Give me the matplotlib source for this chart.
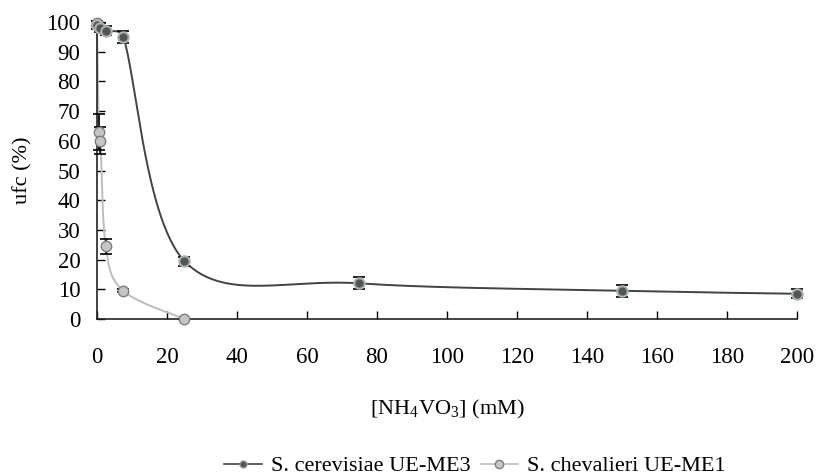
import numpy as np
import matplotlib
matplotlib.use("Agg")
import matplotlib.pyplot as plt
from matplotlib.lines import Line2D

# Data
cer_x = [0, 1, 2.5, 7.5, 25, 75, 150, 200]
cer_y = [99.0, 98.0, 97.0, 95.0, 19.5, 12.0, 9.5, 8.5]
cer_err = [1.5, 1.5, 1.5, 2.0, 1.5, 2.0, 2.0, 1.5]

che_x = [0, 0.5, 1, 2.5, 7.5, 25]
che_y = [99.5, 63.0, 60.0, 24.5, 9.5, 0.0]
che_err = [1.0, 6.0, 4.5, 2.5, 0.5, 0.0]

x_ticks = list(range(0, 201, 20))
y_ticks = list(range(0, 101, 10))

plt.rcParams['font.family'] = ['Liberation Serif', 'DejaVu Serif']
plt.rcParams['mathtext.fontset'] = 'custom'
plt.rcParams['mathtext.rm'] = 'Liberation Serif'

fig = plt.figure(figsize=(8.17, 4.75), dpi=100)
ax = fig.add_axes([0.1187, 0.3284, 0.8568, 0.6253])
ax.set_xlim(0, 200)
ax.set_ylim(0, 100)


def _clamp(v, lim):
    n = np.hypot(*v)
    return v * (lim / n) if n > lim and n > 0 else v


def smooth(xs, ys, n=60):
    # Excel-like smoothed line: Catmull-Rom Bezier (1/6) in display space,
    # control arms limited to half of the segment length
    P = ax.transData.transform(np.column_stack([xs, ys]))
    m = len(P)
    pts = []
    for i in range(m - 1):
        p0 = P[i - 1] if i > 0 else P[i]
        p1 = P[i]
        p2 = P[i + 1]
        p3 = P[i + 2] if i + 2 < m else P[i + 1]
        d12 = np.hypot(*(p2 - p1))
        c1 = p1 + _clamp((p2 - p0) / 6.0, d12 / 2.0)
        c2 = p2 - _clamp((p3 - p1) / 6.0, d12 / 2.0)
        t = np.linspace(0, 1, n)[:, None]
        b = ((1 - t) ** 3) * p1 + 3 * ((1 - t) ** 2) * t * c1 + 3 * (1 - t) * t ** 2 * c2 + t ** 3 * p2
        pts.append(b if i == 0 else b[1:])
    pts = np.vstack(pts)
    return ax.transData.inverted().transform(pts)

dark = '#3f4444'
light = '#bdbdbd'

s1 = smooth(che_x, che_y)
ax.plot(s1[:, 0], s1[:, 1], color=light, lw=1.4, zorder=2, clip_on=False)
s2 = smooth(cer_x, cer_y)
ax.plot(s2[:, 0], s2[:, 1], color=dark, lw=1.4, zorder=2, clip_on=False)

ax.errorbar(che_x, che_y, yerr=che_err, fmt='none', ecolor='black', elinewidth=1.2,
            capsize=4.5, capthick=1.2, zorder=3, clip_on=False)
ax.errorbar(cer_x, cer_y, yerr=cer_err, fmt='none', ecolor='black', elinewidth=1.2,
            capsize=4.5, capthick=1.2, zorder=3, clip_on=False)

ax.plot(che_x, che_y, 'o', ms=7.5, mfc='#c4c6c6', mec='#7e7e7e', mew=1.0, ls='none',
        zorder=4, clip_on=False)
ax.plot(cer_x, cer_y, 'o', ms=7.5, mfc='#505555', mec='#b0b0b0', mew=1.5, ls='none',
        zorder=5, clip_on=False)

ax.set_xticks(x_ticks)
ax.set_yticks(y_ticks)
ax.tick_params(direction='in', length=6, width=1.0, labelsize=16.5, colors='black')
ax.tick_params(axis='x', pad=20)
ax.tick_params(axis='y', pad=12)
for sp in ['top', 'right']:
    ax.spines[sp].set_visible(False)
for sp in ['left', 'bottom']:
    ax.spines[sp].set_linewidth(1.2)
    ax.spines[sp].set_color('#222222')

ax.set_xlabel('[NH$_4$VO$_3$] (mM)', fontsize=16, labelpad=22)
ax.set_ylabel('ufc (%)', fontsize=16, labelpad=10)

handles = [
    Line2D([0], [0], color=dark, lw=1.2, marker='o', ms=5, mfc='#505555', mec='#999999'),
    Line2D([0], [0], color=light, lw=1.2, marker='o', ms=6, mfc='#c4c6c6', mec='#7e7e7e'),
]
fig.legend(handles, ['S. cerevisiae UE-ME3', 'S. chevalieri UE-ME1'],
           loc='center', bbox_to_anchor=(475 / 817, 1 - 466 / 475), ncol=2, frameon=False,
           fontsize=16, handlelength=1.7, handletextpad=0.4, columnspacing=0.45,
           borderpad=0.0)

fig.savefig('out.png', dpi=100)
